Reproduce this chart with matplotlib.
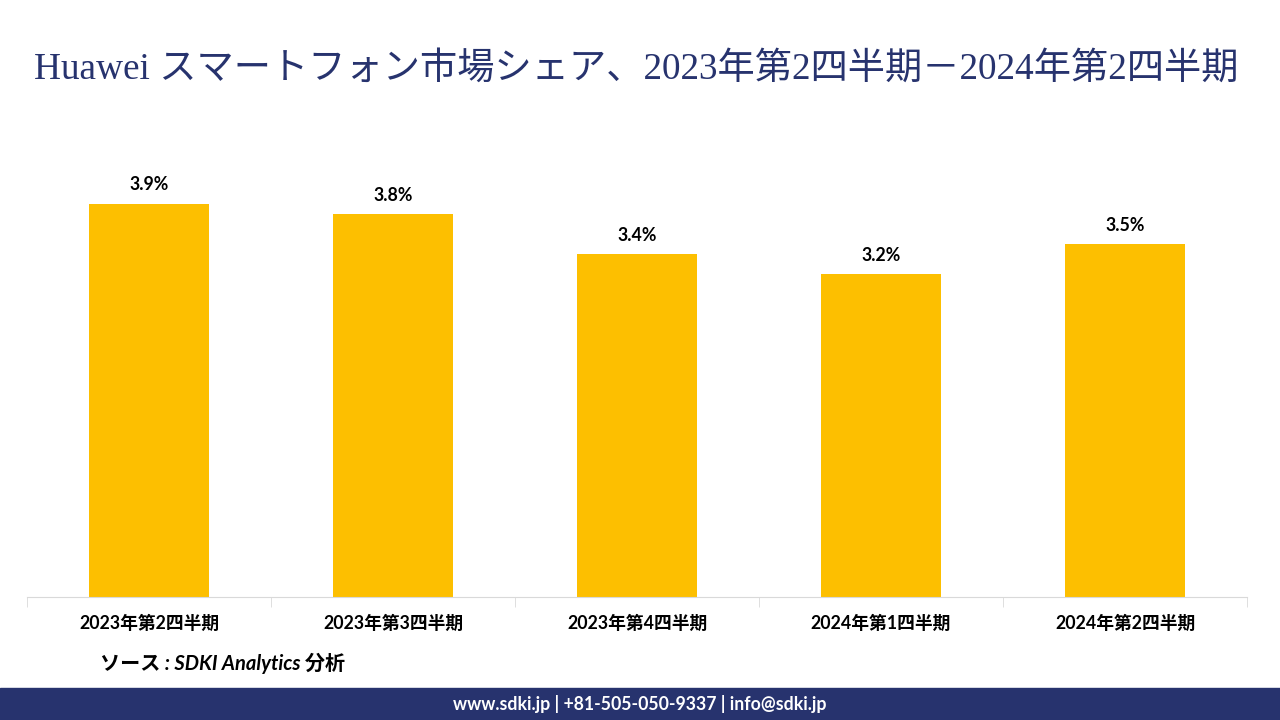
import matplotlib.pyplot as plt
import numpy as np

quarters = ["2023年第2四半期", "2023年第3四半期", "2023年第4四半期", "2024年第1四半期", "2024年第2四半期"]
share = [3.9, 3.8, 3.4, 3.2, 3.5]
labels = ["3.9%", "3.8%", "3.4%", "3.2%", "3.5%"]

title = "Huawei スマートフォン市場シェア、2023年第2四半期－2024年第2四半期"
source = "ソース : SDKI Analytics 分析"
footer = "www.sdki.jp | +81-505-050-9337 | info@sdki.jp"

navy = "#27336e"
bar_color = "#fdbf00"
jp = ["Lato", "Noto Sans CJK JP", "DejaVu Sans"]

fig = plt.figure(figsize=(12.8, 7.2), dpi=100)
ax = fig.add_axes([27 / 1280, 1 - 597 / 720, 1220 / 1280, 454 / 720])

x = np.arange(len(quarters))
ax.bar(x, share, width=0.49, color=bar_color)
for xi, v, lab in zip(x, share, labels):
    ax.text(xi, v + 0.1, lab, ha="center", va="bottom", fontsize=12.8,
            fontweight="bold", family=jp)

ax.set_xlim(-0.5, len(quarters) - 0.5)
ax.set_ylim(0, 4.5)
ax.set_yticks([])
for s in ["top", "right", "left"]:
    ax.spines[s].set_visible(False)
ax.spines["bottom"].set_color("#d9d9d9")
ax.set_xticks(x)
ax.set_xticklabels(quarters, fontsize=12.8, fontweight="bold", family=jp)
ax.tick_params(axis="x", length=0, pad=13)
# category boundary ticks
ax.set_xticks(np.arange(-0.5, len(quarters)), minor=True)
ax.tick_params(axis="x", which="minor", length=7, color="#d9d9d9")

fig.text(0.497, 1 - 69 / 720, title, ha="center", va="center", fontsize=26.8,
         color=navy, family=["Liberation Serif", "Noto Sans CJK JP"])
fig.text(100 / 1280, 1 - 663 / 720, source, ha="left", va="center", fontsize=14.5,
         fontweight="bold", style="italic", family=jp)

fig.patches.append(plt.Rectangle((0, 0), 1, 32 / 720, transform=fig.transFigure,
                                 color=navy, zorder=0))
fig.text(0.5, 16 / 720, footer, ha="center", va="center", fontsize=12.7,
         fontweight="bold", color="white", family=jp)

fig.savefig("out.png", dpi=100)
